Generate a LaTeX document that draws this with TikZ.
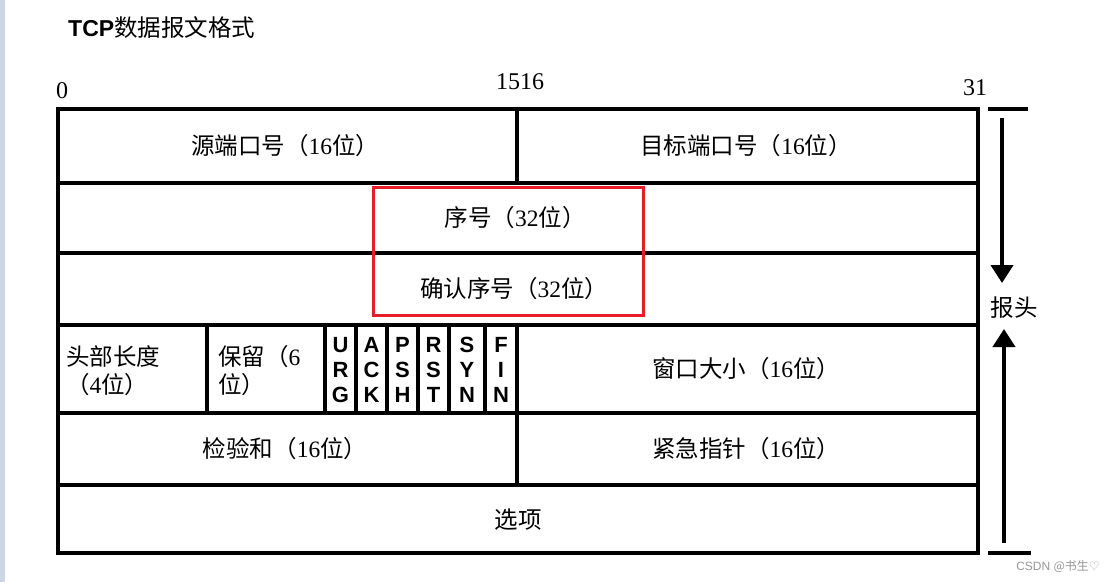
\documentclass[tikz,border=0pt]{standalone}
\usepackage{fontspec}
\setmainfont{Liberation Serif}
\newfontfamily\cjk{Noto Sans CJK SC}
\newfontfamily\hei{Liberation Sans}
\newfontfamily\dejavu{DejaVu Sans}
\usetikzlibrary{arrows.meta}
\definecolor{stripe}{RGB}{205,214,228}
\definecolor{hlred}{RGB}{230,30,40}
\definecolor{wm}{RGB}{150,150,150}
\tikzset{
  grid/.style={line width=4pt, line cap=rect},
  lbl/.style={inner sep=0pt, font=\fontsize{23.5}{28}\selectfont},
  flag/.style={inner sep=0pt, align=center, font=\hei\bfseries\fontsize{22}{25}\selectfont},
  num/.style={inner sep=0pt, font=\fontsize{24}{26}\selectfont},
  harrow/.style={line width=4pt, -{Triangle[length=18pt,width=22pt]}},
}
\begin{document}
\begin{tikzpicture}[x=1pt,y=-1pt]
\useasboundingbox (0,0) rectangle (1117,582);
\fill[stripe] (0,0) rectangle (5,582);
% title
\node[inner sep=0pt, anchor=west] (title) at (68,28) {{\hei\bfseries\fontsize{23}{25}\selectfont TCP}{\cjk\fontsize{23.5}{25}\selectfont 数据报文格式}};
% bit numbers
\node[num, anchor=south west] (b0) at (56,99) {0};
\node[num] (b15) at (520,82) {1516};
\node[num] (b31) at (975,88) {31};
% table
\draw[grid] (58,109) rectangle (978,553);
\foreach \y in {183,253,325,413,485} \draw[grid] (58,\y) -- (978,\y);
\draw[grid] (517,109) -- (517,183);
\draw[grid] (517,325) -- (517,485);
\foreach \x in {207,325,356,387,418,449,485} \draw[grid] (\x,325) -- (\x,413);
% labels
\node[lbl] (src) at (285,146) {{\cjk 源端口号（}16{\cjk 位）}};
\node[lbl] (dst) at (746,146) {{\cjk 目标端口号（}16{\cjk 位）}};
\node[lbl] (seq) at (515,218) {{\cjk 序号（}32{\cjk 位）}};
\node[lbl] (ack) at (514,289) {{\cjk 确认序号（}32{\cjk 位）}};
\node[lbl, anchor=west, align=left] (hlen) at (66,371) {{\cjk 头部长度}\\{\cjk （}4{\cjk 位）}};
\node[lbl, anchor=west, align=left] (rsv) at (218,371) {{\cjk 保留（}6\\{\cjk 位）}};
\node[flag] (urg) at (340.5,370) {U\\R\\G};
\node[flag] (fack) at (371.5,370) {A\\C\\K};
\node[flag] (psh) at (402.5,370) {P\\S\\H};
\node[flag] (rst) at (433.5,370) {R\\S\\T};
\node[flag] (syn) at (467,370) {S\\Y\\N};
\node[flag] (fin) at (501,370) {F\\I\\N};
\node[lbl] (win) at (746,369) {{\cjk 窗口大小（}16{\cjk 位）}};
\node[lbl] (chk) at (285,449) {{\cjk 检验和（}16{\cjk 位）}};
\node[lbl] (urgp) at (746,449) {{\cjk 紧急指针（}16{\cjk 位）}};
\node[lbl] (opt) at (518,520) {{\cjk 选项}};
% red highlight
\draw[hlred, line width=3pt] (373,187) rectangle (643,315);
% header bracket
\draw[line width=4pt] (988,109) -- (1028,109);
\draw[line width=4pt] (988,553) -- (1031,553);
\node[lbl] (hdr) at (1014,308) {{\cjk 报头}};
\coordinate (dtop) at (1002,118);
\coordinate (dtip) at (1002,283);
\coordinate (ubot) at (1004,543);
\coordinate (utip) at (1004,329);
\draw[harrow] (dtop) -- (dtip);
\draw[harrow] (ubot) -- (utip);
% watermark
\node[inner sep=0pt, text=wm, font=\fontsize{12}{13}\selectfont] (wmk) at (1058,566) {{\hei CSDN }{\cjk @书生}{\dejavu ♡}};
\end{tikzpicture}
\end{document}
